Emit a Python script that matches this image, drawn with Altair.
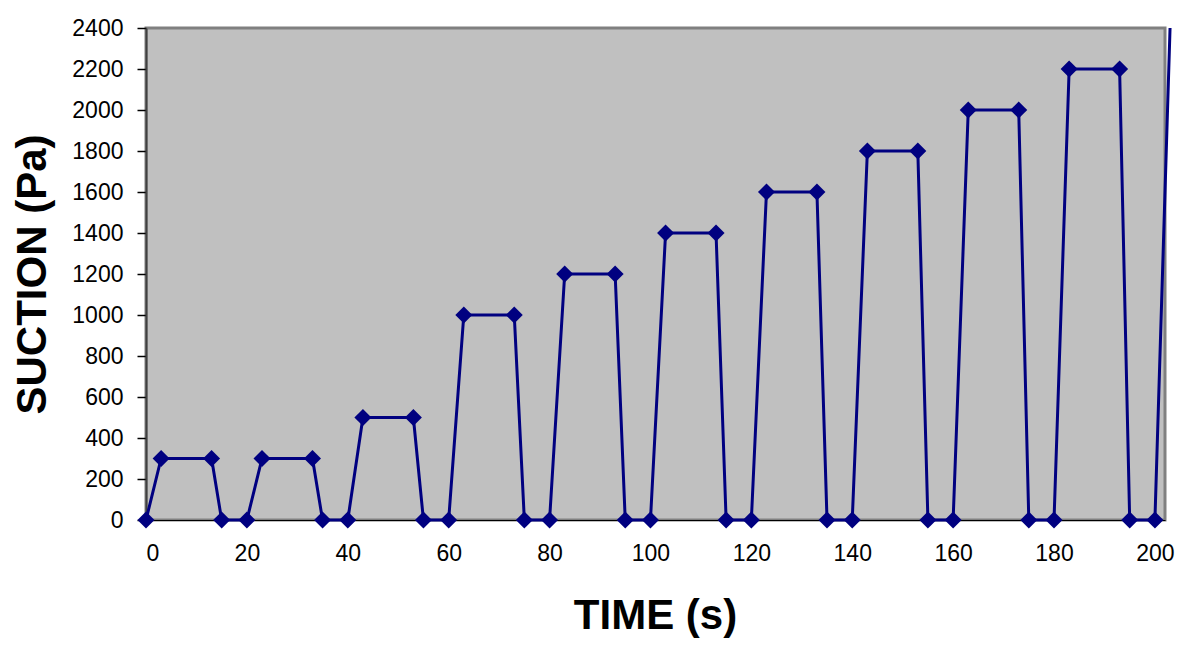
import altair as alt
import pandas as pd

time_s = [0, 3, 13, 15, 20, 23, 33, 35, 40, 43, 53, 55, 60, 63, 73, 75, 80, 83, 93, 95,
          100, 103, 113, 115, 120, 123, 133, 135, 140, 143, 153, 155, 160, 163, 173, 175,
          180, 183, 193, 195, 200, 203]
suction_pa = [0, 300, 300, 0, 0, 300, 300, 0, 0, 500, 500, 0, 0, 1000, 1000, 0, 0, 1200, 1200, 0,
              0, 1400, 1400, 0, 0, 1600, 1600, 0, 0, 1800, 1800, 0, 0, 2000, 2000, 0,
              0, 2200, 2200, 0, 0, 2400]
has_marker = [True] * 41 + [False]
x_ticks = list(range(0, 201, 20))
y_ticks = list(range(0, 2401, 200))

df = pd.DataFrame({"time": time_s, "suction": suction_pa, "marker": has_marker})

NAVY = "#000080"
FONT = "Liberation Sans"

x_enc = alt.X("time:Q",
              scale=alt.Scale(domain=[0, 202], nice=False, zero=True),
              axis=alt.Axis(values=x_ticks, format="d", title="TIME (s)", grid=False, ticks=False,
                            domainColor="black", domainWidth=1,
                            labelFontSize=23, labelPadding=22, labelFont=FONT, labelColor="black",
                            titleFont=FONT, titleFontSize=42, titleFontWeight="bold",
                            titleX=509, titleY=108, titleBaseline="alphabetic",
                            titleAlign="center", titleColor="black"))
y_enc = alt.Y("suction:Q",
              scale=alt.Scale(domain=[0, 2400], nice=False),
              axis=alt.Axis(values=y_ticks, format="d", title="SUCTION (Pa)", grid=False,
                            ticks=True, tickSize=9, tickColor="black", tickWidth=1.5,
                            domainColor="#404040", domainWidth=2,
                            labelFontSize=23, labelPadding=14, labelFont=FONT, labelColor="black",
                            titleFont=FONT, titleFontSize=42, titleFontWeight="bold",
                            titleAngle=270, titleX=-101, titleY=246,
                            titleBaseline="alphabetic", titleAlign="center", titleColor="black"))

line = alt.Chart(df).mark_line(color=NAVY, strokeWidth=3).encode(x=x_enc, y=y_enc)
pts = alt.Chart(df).transform_filter("datum.marker").mark_point(
    shape="diamond", filled=True, color=NAVY, size=290, opacity=1
).encode(x=x_enc, y=y_enc)

chart = (line + pts).properties(
    width=1019, height=492,
    autosize=alt.AutoSizeParams(type="none"),
    padding={"left": 138, "top": 20, "right": 12, "bottom": 122},
).configure_view(fill="#C0C0C0", stroke="#808080", strokeWidth=3)

chart.save("out.html", embed_options={"renderer": "svg", "actions": False})
